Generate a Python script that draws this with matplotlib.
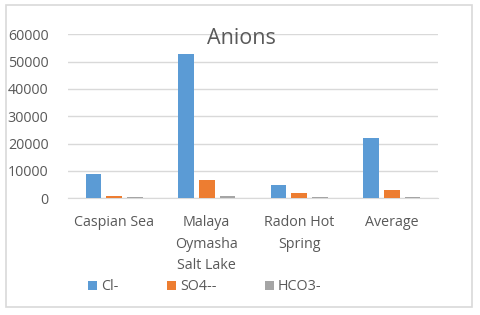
import matplotlib
matplotlib.use("Agg")
import matplotlib.pyplot as plt
import numpy as np
from matplotlib.patches import Rectangle

# values
sites = ["Caspian Sea", "Malaya\nOymasha\nSalt Lake", "Radon Hot\nSpring", "Average"]
series_names = ["Cl-", "SO4--", "HCO3-"]
cl = [8900, 52700, 4750, 22100]
so4 = [1000, 6700, 1800, 3100]
hco3 = [300, 1000, 300, 500]
colors = ["#5B9BD5", "#ED7D31", "#A5A5A5"]

plt.rcParams['font.family'] = ['Open Sans', 'DejaVu Sans']
text_grey = "#595959"

fig = plt.figure(figsize=(4.8, 3.15), dpi=100)
ax = fig.add_axes([68 / 480, 1 - 198.3 / 315, 370 / 480, 164 / 315])

x = np.arange(len(sites))
width = 0.168
step = 0.222
for i, (vals, name) in enumerate(zip([cl, so4, hco3], series_names)):
    ax.bar(x + (i - 1) * step, vals, width, color=colors[i], label=name, zorder=3)

ax.set_xlim(-0.5, len(sites) - 0.5)
ax.set_ylim(0, 60000)
ax.set_yticks(np.arange(0, 60001, 10000))
ax.yaxis.grid(True, color="#D9D9D9", linewidth=1, zorder=0)
for s in ["top", "right", "left"]:
    ax.spines[s].set_visible(False)
ax.spines["bottom"].set_color("#D9D9D9")
ax.tick_params(axis="both", length=0, colors=text_grey, labelsize=10.3)
ax.tick_params(axis="y", pad=14)
ax.tick_params(axis="x", pad=12)
ax.set_xticks(x)
ax.set_xticklabels(sites, linespacing=1.6, va="top")

fig.text(241 / 480, 1 - 38 / 315, "Anions", ha="center", va="center",
         fontsize=15.5, color=text_grey)

fig.legend(loc="center", bbox_to_anchor=(205 / 480, 1 - 287 / 315), ncol=3,
           frameon=False, fontsize=10.3, handlelength=0.6, handleheight=0.6,
           columnspacing=3.4, handletextpad=0.3, labelcolor=text_grey)

# chart border
fig.patches.append(Rectangle((6 / 480, 1 - 307 / 315), 466 / 480, 302 / 315,
                             transform=fig.transFigure, fill=False,
                             edgecolor="#D9D9D9", linewidth=1.2))

fig.savefig("out.png", dpi=100, facecolor="white")
